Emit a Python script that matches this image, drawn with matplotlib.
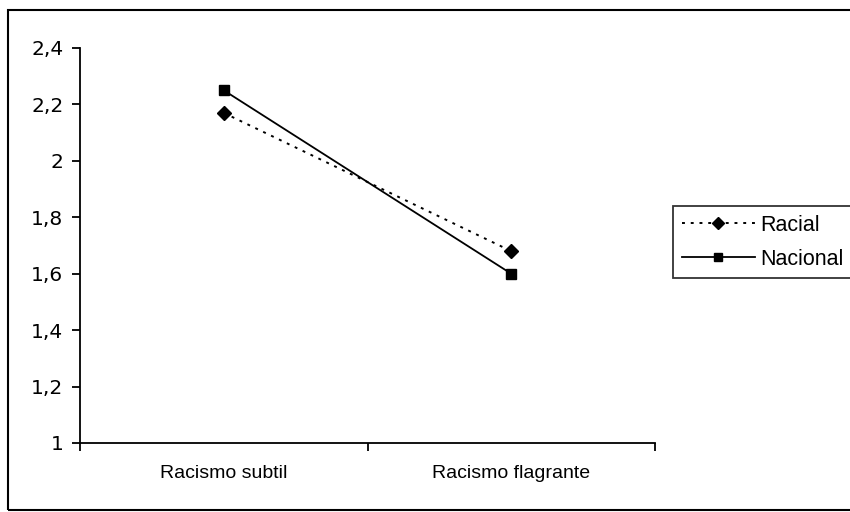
import matplotlib.pyplot as plt
from matplotlib.patches import Rectangle
from matplotlib.ticker import FixedLocator, FuncFormatter

plt.rcParams['font.family'] = ['Liberation Sans', 'DejaVu Sans']

# data
categories = ['Racismo subtil', 'Racismo flagrante']
racial = [2.17, 1.68]
nacional = [2.25, 1.60]
yticks = [1, 1.2, 1.4, 1.6, 1.8, 2, 2.2, 2.4]

fig = plt.figure(figsize=(8.5, 5.12), dpi=100)
# outer frame (right side runs off the page like in the scan)
fig.patches.append(Rectangle((8/850, 2/512), 846/850, 500/512, transform=fig.transFigure,
                             fill=False, edgecolor='black', linewidth=1.5))
ax = fig.add_axes([80/850, 1-443/512, 575/850, 395/512])

x = [0.5, 1.5]
ax.plot(x, racial, linestyle=(0, (1.5, 3)), color='black', linewidth=1.4,
        marker='D', markersize=7, label='Racial')
ax.plot(x, nacional, linestyle='-', color='black', linewidth=1.3,
        marker='s', markersize=6.5, label='Nacional')

ax.set_xlim(0, 2)
ax.set_ylim(1, 2.4)
ax.xaxis.set_major_locator(FixedLocator([0, 1, 2]))
ax.xaxis.set_minor_locator(FixedLocator(x))
ax.xaxis.set_major_formatter(FuncFormatter(lambda v, p: ''))
ax.xaxis.set_minor_formatter(FuncFormatter(lambda v, p: categories[int(v)]))
ax.tick_params(axis='x', which='minor', length=0, pad=16, labelsize=14)
ax.tick_params(axis='x', which='major', length=6, width=1.3, direction='out')
ax.set_yticks(yticks)
ax.yaxis.set_major_formatter(FuncFormatter(lambda v, p: f'{v:g}'.replace('.', ',')))
ax.tick_params(axis='y', length=6, width=1.3, direction='out', pad=6)
for lab in ax.get_yticklabels():
    lab.set_family(['DejaVu Sans'])
    lab.set_fontsize(14.5)

for s in ['top', 'right']:
    ax.spines[s].set_visible(False)
for s in ['left', 'bottom']:
    ax.spines[s].set_linewidth(1.3)

leg = ax.legend(loc='upper left', bbox_to_anchor=((673-80)/575, (443-206)/395), fontsize=15.5,
                frameon=True, fancybox=False, edgecolor='black', handlelength=3.4,
                handletextpad=0.25, borderaxespad=0, markerscale=0.85, borderpad=0.4,
                labelspacing=0.6)
leg.get_frame().set_linewidth(1.3)

fig.savefig('out.png', dpi=100)
